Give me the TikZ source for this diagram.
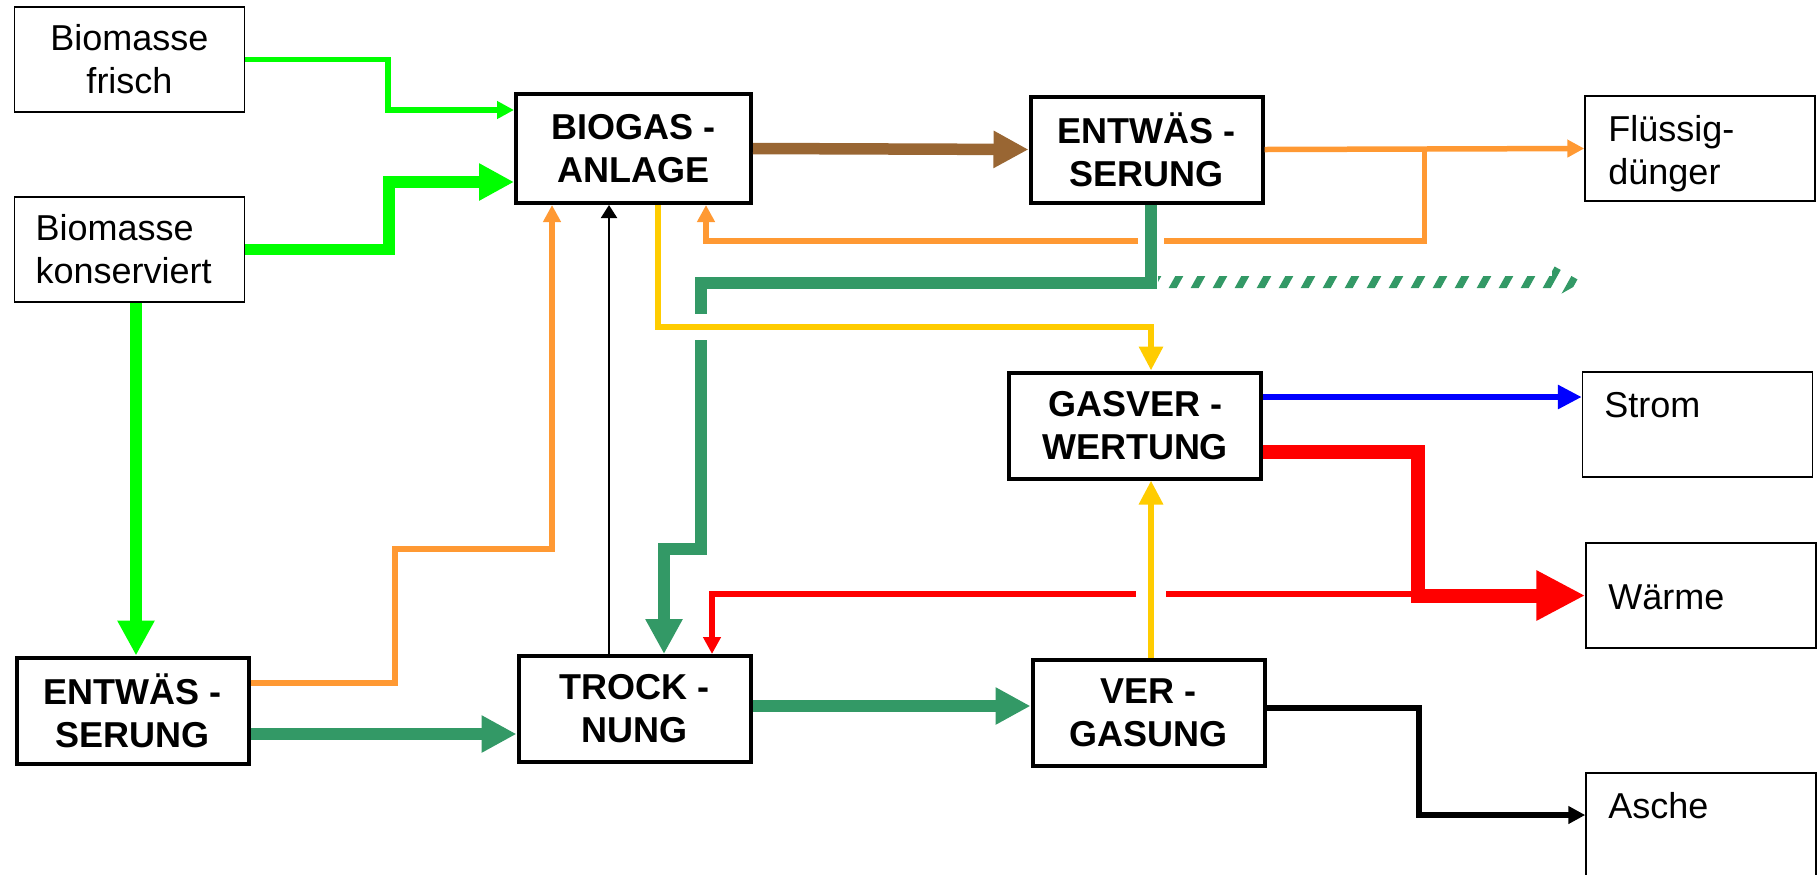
\documentclass[tikz,border=0pt]{standalone}
\usepackage{fontspec}
\setmainfont{Liberation Sans}
\usetikzlibrary{calc,arrows.meta}

\definecolor{freshgreen}{RGB}{0,255,0}
\definecolor{digest}{RGB}{153,102,51}
\definecolor{solidgreen}{RGB}{51,153,102}
\definecolor{liquid}{RGB}{255,153,51}
\definecolor{gasyellow}{RGB}{255,204,0}

\begin{document}
\begin{tikzpicture}[x=0.5pt,y=-0.5pt,
	font=\fontsize{18}{21.5}\selectfont,
	proc/.style={draw, line width=2pt, minimum width=116pt, minimum height=53pt, inner sep=0pt, align=center, font=\fontsize{18}{21.5}\selectfont\bfseries},
	store/.style={draw, line width=0.75pt, minimum width=115pt, minimum height=52.5pt, inner sep=0pt},
	note/.style={anchor=base west, inner sep=0pt, align=left},
	flow/.style={line width=2.75pt, -{Triangle[length=8.5pt,width=8.5pt]}},
	gasflow/.style={line width=3pt, -{Triangle[length=12pt,width=11.5pt]}},
	bigflow/.style={line width=5.75pt, -{Triangle[length=17.5pt,width=17.5pt]}},
	bridge/.style={white, line width=13pt}]
\useasboundingbox (0,0) rectangle (1818,874);

\node[store, align=center] (frisch) at (129.5,59.5) {Biomasse\\frisch};
\node[store, align=left, text width=94pt] (konserv) at (129.5,249.5) {Biomasse\\konserviert};
\node[proc, minimum width=117.5pt, minimum height=54.5pt] (biogas) at (633.5,148.5) {BIOGAS -\\ANLAGE};
\node[proc] (entw1) at (1146.5,149.5) {ENTWÄS -\\SERUNG};
\node[proc, minimum width=126pt] (gasver) at (1135,425.5) {GASVER -\\WERTUNG};
\node[proc] (entw2) at (132.5,710.5) {ENTWÄS -\\SERUNG};
\node[proc] (trock) at (634.5,709) {TROCK -\\NUNG};
\node[proc] (verg) at (1148.5,712.5) {VER -\\GASUNG};
\node[store] (fluessig) at (1700,148.5) {};
\node[store] (strom) at (1697.5,424.5) {};
\node[store] (waerme) at (1701,595.5) {};
\node[store] (asche) at (1701,825.5) {};
\node[note] (fluessigtxt) at (1608,184.7) {Flüssig-\\dünger};
\node[note] (stromtxt) at (1604,417) {Strom};
\node[note] (waermetxt) at (1608,609) {Wärme};
\node[note] (aschetxt) at (1608,818) {Asche};

\coordinate (split) at ($(entw1.east)!0.5!(fluessig.west)$);
\coordinate (heatback) at (1418,594);
\coordinate (press) at (1158,282);

% feed
\draw[flow, freshgreen] (frisch.east) -| (388,110) -- (biogas.west |- 0,110);
\draw[bigflow, freshgreen] (konserv.east) -| (389,182) -- (biogas.west |- 0,182);
\draw[bigflow, freshgreen] (konserv.south -| 136,0) -- (entw2.north -| 136,0);

% digestate
\draw[bigflow, digest] (biogas.east) -- (entw1.west);
\draw[flow, liquid] (entw1.east) -- (fluessig.west);
\draw[flow, liquid] (split) |- (706,241) -- (biogas.south -| 706,0);
\draw[bridge] (1151,234) -- (1151,248);
\draw[bigflow, solidgreen] (entw1.south -| 1151,0) |- (701,283) |- (664,549) -- (trock.north -| 664,0);

\begin{scope}
	\clip (press |- 0,276) -- (1552,276) -- (1552,265) -- (1582,282) -- (1552,299) -- (1552,288) -- (press |- 0,288) -- cycle;
	\foreach \x in {1140,1162,...,1590}
		\fill[solidgreen] (\x,300) -- ++(8,0) -- ++(20,-36) -- ++(-8,0) -- cycle;
\end{scope}

% gas
\draw[bridge] (690,327) -- (712,327);
\draw[gasflow, gasyellow] (biogas.south -| 658,0) |- (1151,327) -- (gasver.north -| 1151,0);
\draw[gasflow, blue] (gasver.east |- 0,397) -- (strom.west |- 0,397);
\draw[line width=7pt, red, -{Triangle[length=24.5pt,width=23.5pt]}] (gasver.east |- 0,452) -| (waerme.west -| 1418,0) -- (waerme.west);
\draw[flow, red] (heatback) -| (trock.north -| 712,0);
\draw[bridge, line width=15pt] (1151,586) -- (1151,602);
\draw[gasflow, gasyellow] (verg.north -| 1151,0) -- (gasver.south -| 1151,0);

% solids
\draw[flow, liquid] (entw2.east |- 0,683) -| (395,549) -| (biogas.south -| 552,0);
\draw[line width=1pt, -{Triangle[length=6.5pt,width=8pt]}] (trock.north -| 609,0) -- (biogas.south -| 609,0);
\draw[bigflow, solidgreen] (entw2.east |- 0,734) -- (trock.west |- 0,734);
\draw[bigflow, solidgreen] (trock.east |- 0,706) -- (verg.west |- 0,706);
\draw[flow, black] (verg.east |- 0,708) -| (1419,815) -- (asche.west |- 0,815);

\end{tikzpicture}
\end{document}
